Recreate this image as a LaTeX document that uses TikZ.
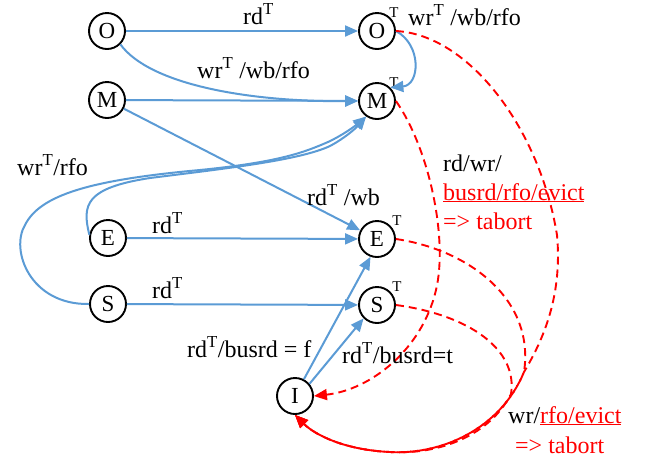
\documentclass[tikz,border=0pt]{standalone}
\usepackage{fontspec}
\setmainfont{Liberation Serif}
\usetikzlibrary{arrows.meta}
\definecolor{edgeblue}{RGB}{91,155,213}
\definecolor{abortred}{RGB}{255,0,0}
\newcommand{\sT}{\textsuperscript{T}}

\begin{document}
\begin{tikzpicture}[x=1pt,y=-1pt,
  state/.style={circle,draw,line width=1.9pt,minimum size=36pt,inner sep=0pt,
                font=\fontsize{23}{23}\selectfont},
  trans/.style={draw=edgeblue,line width=2pt,-{Triangle[length=13pt,width=11pt]}},
  abort/.style={draw=abortred,line width=1.9pt,dash pattern=on 8pt off 5pt},
  abortend/.style={abort,-{Triangle[length=13pt,width=11pt]}},
  lbl/.style={anchor=base west,inner sep=0pt,font=\fontsize{24}{28}\selectfont},
  tmark/.style={inner sep=0pt,font=\fontsize{15}{15}\selectfont},
]
\useasboundingbox (0,0) rectangle (654,459);

% states before and after the transaction
\node[state] (O)  at (107,31)  {O};
\node[state] (M)  at (107,100) {M};
\node[state] (E)  at (108,238) {E};
\node[state] (S)  at (108,304) {S};
\node[state] (OT) at (377,31)  {O};
\node[state] (MT) at (377,101) {M};
\node[state] (ET) at (377,239) {E};
\node[state] (ST) at (377,305) {S};
\node[state] (I)  at (295,396) {I};

% transactional marks
\node[tmark] (tO) at (394,13)  {T};
\node[tmark] (tM) at (394,83)  {T};
\node[tmark] (tE) at (397,221) {T};
\node[tmark] (tS) at (397,287) {T};

% transactional transitions
\draw[trans] (O) -- (OT);
\draw[trans] (O.south east) .. controls (150,85) and (250,102) .. (MT.west);
\draw[trans] (M) -- (MT);
\draw[trans] (M) -- (ET);
\draw[trans] (OT.east) .. controls (422,45) and (420,85) .. (MT.north east);
\draw[trans] (E.170) .. controls (82,205) and (85,188) .. (150,178)
   .. controls (230,168) and (300,160) .. (330,146)
   .. controls (345,138) and (356,128) .. (MT.235);
\draw[trans] (S.west) .. controls (30,305) and (10,250) .. (25,225)
   .. controls (40,195) and (90,180) .. (200,170)
   .. controls (280,162) and (305,152) .. (328,142)
   .. controls (343,135) and (355,126) .. (MT.235);
\draw[trans] (E) -- (ET);
\draw[trans] (S) -- (ST);
\draw[trans] (I.62) -- (ET.250);
\draw[trans] (I.40) -- (ST.225);

% aborts back to I
\draw[abortend] (OT.east) .. controls (470,35) and (540,130) .. (557,235)
   .. controls (563,300) and (540,345) .. (524,372)
   .. controls (500,430) and (440,455) .. (390,452)
   .. controls (345,450) and (315,435) .. (I.south);
\draw[abortend] (ET.east) .. controls (470,250) and (535,300) .. (524,372)
   .. controls (500,430) and (440,455) .. (390,452)
   .. controls (345,450) and (315,435) .. (I.south);
\draw[abortend] (ST.east) .. controls (470,315) and (518,350) .. (511,394)
   .. controls (490,435) and (440,455) .. (390,452)
   .. controls (345,450) and (315,435) .. (I.south);
\draw[abortend] (MT.east) .. controls (430,150) and (448,240) .. (436,290)
   .. controls (422,350) and (370,390) .. (I.east);

% labels
\node[lbl] (l1) at (243,24)  {rd\sT};
\node[lbl] (l2) at (197,78)  {wr\sT\ /wb/rfo};
\node[lbl] (l3) at (408,25)  {wr\sT\ /wb/rfo};
\node[lbl] (l4) at (17,175)  {wr\sT/rfo};
\node[lbl] (l5) at (307,205) {rd\sT\ /wb};
\node[lbl] (l6) at (152,233) {rd\sT};
\node[lbl] (l7) at (152,298) {rd\sT};
\node[lbl] (l8) at (187,357) {rd\sT/busrd = f};
\node[lbl] (l9) at (342,363) {rd\sT/busrd=t};
\node[lbl] (a1) at (443,171) {rd/wr/};
\node[lbl,text=abortred] (a2) at (443,200) {\underline{busrd/rfo/evict}};
\node[lbl,text=abortred] (a3) at (443,229) {=> tabort};
\node[lbl] (b1) at (508,423) {wr/\textcolor{abortred}{\underline{rfo/evict}}};
\node[lbl,text=abortred] (b2) at (515,453) {=> tabort};
\end{tikzpicture}
\end{document}
